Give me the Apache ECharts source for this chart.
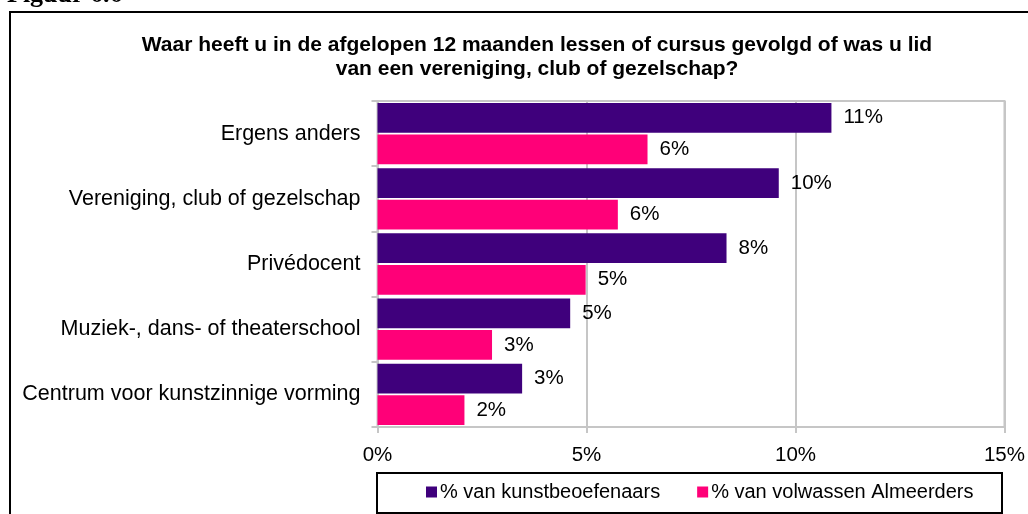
<!DOCTYPE html>
<html>
<head>
<meta charset="utf-8">
<script src="https://cdn.jsdelivr.net/npm/echarts@6/dist/echarts.min.js"></script>
<style>
  html, body { margin: 0; padding: 0; background: #fff; }
  #main { width: 1028px; height: 514px; }
</style>
</head>
<body>
<div id="main"></div>
<script>
const categories = [
  'Ergens anders',
  'Vereniging, club of gezelschap',
  'Privédocent',
  'Muziek-, dans- of theaterschool',
  'Centrum voor kunstzinnige vorming'
];
const kunstbeoefenaars = [10.86, 9.6, 8.35, 4.61, 3.46];
const almeerders = [6.46, 5.75, 4.98, 2.74, 2.08];
const seriesNames = ['% van kunstbeoefenaars', '% van volwassen Almeerders'];
const xTicks = [0, 5, 10, 15];

const font = 'Liberation Sans, Arial, sans-serif';
const gridGray = '#c6c6c6';

const myChart = echarts.init(document.getElementById('main'));

const barLabel = {
  show: true,
  position: 'right',
  distance: 12,
  fontFamily: font,
  fontSize: 20.5,
  color: '#000',
  formatter: p => Math.round(p.value) + '%'
};

const option = {
  backgroundColor: '#fff',
  animation: false,
  title: {
    text: 'Waar heeft u in de afgelopen 12 maanden lessen of cursus gevolgd of was u lid\nvan een vereniging, club of gezelschap?',
    left: 537,
    top: 33,
    padding: 0,
    textAlign: 'center',
    textStyle: {
      fontFamily: font,
      fontSize: 21,
      fontWeight: 'bold',
      lineHeight: 24,
      color: '#000'
    }
  },
  graphic: [
    {
      type: 'text',
      left: 7,
      top: -18,
      style: {
        text: 'Figuur 6.6',
        fontFamily: 'Liberation Serif, Times New Roman, serif',
        fontWeight: 'bold',
        fontSize: 26,
        fill: '#000'
      }
    },
    {
      // outer frame
      type: 'rect',
      shape: { x: 10, y: 12, width: 1030, height: 520 },
      style: { fill: 'none', stroke: '#000', lineWidth: 2 }
    },
    {
      // legend frame
      type: 'rect',
      shape: { x: 377, y: 473, width: 625, height: 40 },
      style: { fill: 'none', stroke: '#000', lineWidth: 2 }
    }
  ],
  legend: {
    data: seriesNames,
    left: 426,
    top: 482,
    padding: 0,
    itemWidth: 11,
    itemHeight: 11,
    itemGap: 37,
    icon: 'rect',
    textStyle: {
      fontFamily: font,
      fontSize: 20,
      color: '#000',
      padding: [0, 0, 0, -2]
    }
  },
  grid: {
    left: 377.5,
    right: 22.3,
    top: 101,
    bottom: 87,
    show: true,
    borderColor: gridGray,
    borderWidth: 2
  },
  xAxis: {
    type: 'value',
    min: xTicks[0],
    max: xTicks[xTicks.length - 1],
    interval: 5,
    axisLine: { show: true, lineStyle: { color: gridGray, width: 2 } },
    axisTick: { show: true, length: 6, lineStyle: { color: gridGray, width: 2 } },
    splitLine: { show: true, lineStyle: { color: gridGray, width: 2 } },
    axisLabel: {
      margin: 18,
      fontFamily: font,
      fontSize: 20.5,
      color: '#000',
      formatter: '{value}%'
    }
  },
  yAxis: {
    type: 'category',
    data: categories,
    inverse: true,
    axisLine: { show: true, lineStyle: { color: gridGray, width: 2 } },
    axisTick: { show: true, length: 6, lineStyle: { color: gridGray, width: 2 } },
    axisLabel: {
      margin: 17,
      fontFamily: font,
      fontSize: 21.5,
      color: '#000'
    }
  },
  series: [
    {
      name: seriesNames[0],
      type: 'bar',
      data: kunstbeoefenaars,
      barCategoryGap: '6%',
      barGap: '6%',
      itemStyle: { color: '#3f007c' },
      label: barLabel
    },
    {
      name: seriesNames[1],
      type: 'bar',
      data: almeerders,
      itemStyle: { color: '#ff0078' },
      label: barLabel
    }
  ]
};

myChart.setOption(option);
</script>
</body>
</html>
